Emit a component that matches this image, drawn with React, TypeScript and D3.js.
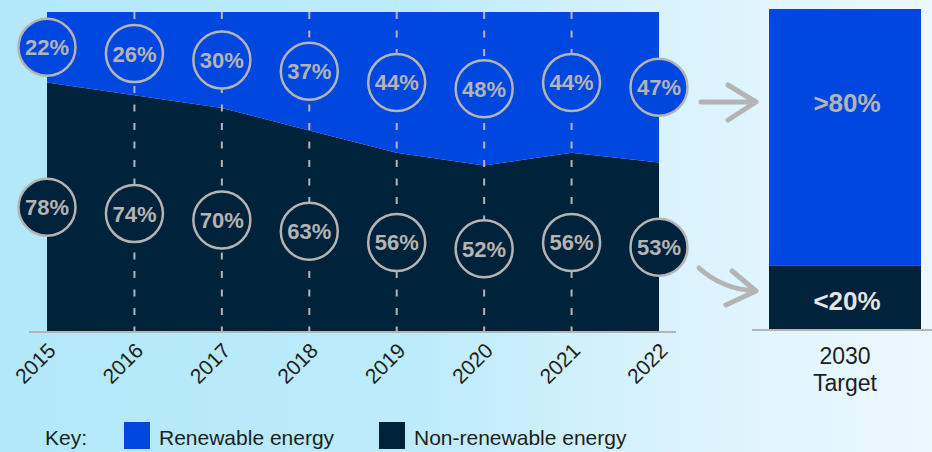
import React from "react";
import * as d3 from "d3";

const years = ["2015", "2016", "2017", "2018", "2019", "2020", "2021", "2022"];
const renewable = [22, 26, 30, 37, 44, 48, 44, 47];
const nonRenewable = [78, 74, 70, 63, 56, 52, 56, 53];
const targetCategory = ["2030", "Target"];
const targetRenewable = 80;
const targetNonRenewable = 20;
const targetRenewableLabel = ">80%";
const targetNonRenewableLabel = "<20%";
const legendItems = ["Renewable energy", "Non-renewable energy"];

const W = 932;
const H = 452;
const BLUE = "#0047E0";
const NAVY = "#00223B";
const GREY = "#b4b4b4";
const FONT = "'Liberation Sans', Arial, sans-serif";

export default function App() {
  const x = d3.scalePoint<string>().domain(years).range([47, 659]);
  const y = d3.scaleLinear().domain([0, 100]).range([332, 12]);
  const yT = d3.scaleLinear().domain([0, 100]).range([330, 9]);
  const xT = d3.scaleBand<string>().domain(["2030"]).range([769, 921]).padding(0);

  const idx = years.map((_, i) => i);
  const nonArea = d3
    .area<number>()
    .x((i) => x(years[i])!)
    .y0(y(0))
    .y1((i) => y(nonRenewable[i]))
    .curve(d3.curveLinear);
  const renArea = d3
    .area<number>()
    .x((i) => x(years[i])!)
    .y0((i) => y(100 - renewable[i]))
    .y1(y(100))
    .curve(d3.curveLinear);

  const r = 28.5;
  const tx = xT("2030")!;
  const tw = xT.bandwidth();

  return (
    <svg
      width={W}
      height={H}
      style={{ position: "absolute", left: 0, top: 0, display: "block" }}
    >
      <defs>
        <linearGradient id="bg" x1="0" x2="1" y1="0" y2="0">
          <stop offset="0" stopColor="#b2e8fa" />
          <stop offset="0.45" stopColor="#bdebfb" />
          <stop offset="0.72" stopColor="#d9f3fc" />
          <stop offset="1" stopColor="#ecf8fe" />
        </linearGradient>
      </defs>
      <rect x={0} y={0} width={W} height={H} fill="url(#bg)" />

      <path d={nonArea(idx)!} fill={NAVY} />
      <path d={renArea(idx)!} fill={BLUE} />

      {years.slice(1, -1).map((yr) => (
        <line
          key={yr}
          x1={x(yr)}
          x2={x(yr)}
          y1={y(100)}
          y2={y(0)}
          stroke={GREY}
          strokeWidth={2}
          strokeDasharray="7 11.5"
        />
      ))}

      <line x1={29} x2={676} y1={332} y2={332} stroke={GREY} strokeWidth={2} />

      {years.map((yr, i) => {
        const cx = x(yr)!;
        const cyR = (y(100) + y(nonRenewable[i])) / 2;
        const cyN = (y(nonRenewable[i]) + y(0)) / 2;
        return (
          <g key={yr}>
            <circle cx={cx} cy={cyR} r={r} fill={BLUE} stroke={GREY} strokeWidth={2.5} />
            <text
              x={cx}
              y={cyR}
              dy="0.36em"
              textAnchor="middle"
              fontFamily={FONT}
              fontWeight="bold"
              fontSize={22}
              fill={GREY}
            >
              {renewable[i]}%
            </text>
            <circle cx={cx} cy={cyN} r={r} fill={NAVY} stroke={GREY} strokeWidth={2.5} />
            <text
              x={cx}
              y={cyN}
              dy="0.36em"
              textAnchor="middle"
              fontFamily={FONT}
              fontWeight="bold"
              fontSize={22}
              fill={GREY}
            >
              {nonRenewable[i]}%
            </text>
            <text
              transform={`translate(${cx + 10},352) rotate(-45)`}
              textAnchor="end"
              fontFamily={FONT}
              fontSize={21}
              fill="#1e1e1e"
            >
              {yr}
            </text>
          </g>
        );
      })}

      {/* 2030 target bar */}
      <rect
        x={tx}
        y={yT(100)}
        width={tw}
        height={yT(100 - targetRenewable) - yT(100)}
        fill={BLUE}
      />
      <rect
        x={tx}
        y={yT(targetNonRenewable)}
        width={tw}
        height={yT(0) - yT(targetNonRenewable)}
        fill={NAVY}
      />
      <line x1={752} x2={932} y1={330} y2={330} stroke={GREY} strokeWidth={2} />
      <text
        x={tx + tw / 2 + 2}
        y={112}
        textAnchor="middle"
        fontFamily={FONT}
        fontWeight="bold"
        fontSize={26}
        fill={GREY}
      >
        {targetRenewableLabel}
      </text>
      <text
        x={tx + tw / 2 + 2}
        y={310}
        textAnchor="middle"
        fontFamily={FONT}
        fontWeight="bold"
        fontSize={26}
        fill="#e4e4e4"
      >
        {targetNonRenewableLabel}
      </text>
      <text
        x={tx + tw / 2}
        y={364}
        textAnchor="middle"
        fontFamily={FONT}
        fontSize={23}
        fill="#1e1e1e"
      >
        {targetCategory[0]}
      </text>
      <text
        x={tx + tw / 2}
        y={391}
        textAnchor="middle"
        fontFamily={FONT}
        fontSize={23}
        fill="#1e1e1e"
      >
        {targetCategory[1]}
      </text>

      {/* arrows */}
      <g fill="none" stroke={GREY} strokeWidth={5} strokeLinecap="round" strokeLinejoin="round">
        <path d="M701,102 H755" />
        <path d="M728,85 L756,102 L728,120" />
        <path d="M699,268 Q722,289 755,291" />
        <path d="M732,271 L756,291 L726,305" />
      </g>

      {/* legend */}
      <text x={45} y={445} fontFamily={FONT} fontSize={21} fill="#1e1e1e">
        Key:
      </text>
      <rect x={124} y={422} width={26} height={27} fill={BLUE} />
      <text x={159} y={445} fontFamily={FONT} fontSize={21} fill="#1e1e1e">
        {legendItems[0]}
      </text>
      <rect x={379} y={422} width={26} height={27} fill={NAVY} />
      <text x={414} y={445} fontFamily={FONT} fontSize={21} fill="#1e1e1e">
        {legendItems[1]}
      </text>
    </svg>
  );
}
